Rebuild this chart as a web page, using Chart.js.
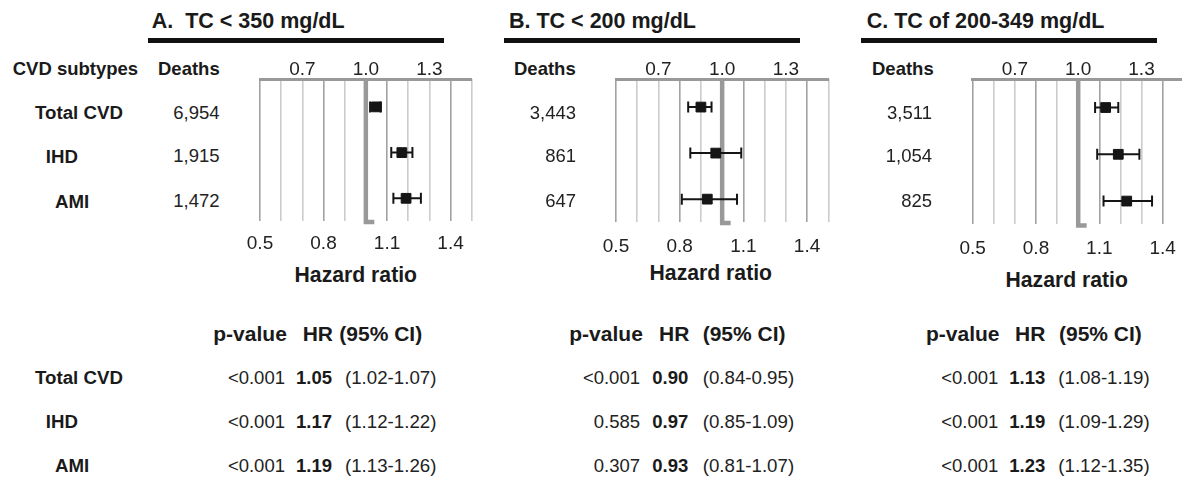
<!DOCTYPE html>
<html><head><meta charset="utf-8">
<script src="https://cdn.jsdelivr.net/npm/chart.js@4.4.1/dist/chart.umd.min.js"></script>
<style>
html,body{margin:0;padding:0;background:#fff;}
#wrap{position:relative;width:1182px;height:481px;overflow:hidden;font-family:'Liberation Sans',Arial,sans-serif;color:#1a1a1a;}
.t{position:absolute;white-space:pre;line-height:1;}
canvas{position:absolute;top:0;}
.bar{position:absolute;background:#111;}
</style></head><body><div id="wrap"></div>
<script>
// ---------- data ----------
const categories = ['Total CVD', 'IHD', 'AMI'];
const panelTitles = ['A.  TC < 350 mg/dL', 'B. TC < 200 mg/dL', 'C. TC of 200-349 mg/dL'];
const deathsA = ['6,954', '1,915', '1,472'];
const deathsB = ['3,443', '861', '647'];
const deathsC = ['3,511', '1,054', '825'];
const hrA = [1.05, 1.17, 1.19];
const loA = [1.02, 1.12, 1.13];
const hiA = [1.07, 1.22, 1.26];
const hrB = [0.90, 0.97, 0.93];
const loB = [0.84, 0.85, 0.81];
const hiB = [0.95, 1.09, 1.07];
const hrC = [1.13, 1.19, 1.23];
const loC = [1.08, 1.09, 1.12];
const hiC = [1.19, 1.29, 1.35];
const pA = ['<0.001', '<0.001', '<0.001'];
const pB = ['<0.001', '0.585', '0.307'];
const pC = ['<0.001', '<0.001', '<0.001'];
const gridTicks = [0.5, 0.6, 0.7, 0.8, 0.9, 1.0, 1.1, 1.2, 1.3, 1.4, 1.5];
const bottomTicks = [0.5, 0.8, 1.1, 1.4];
const topTicks = [0.7, 1.0, 1.3];
const refValue = 1.0;

// ---------- layout / style ----------
const FONT = "'Liberation Sans', Arial, sans-serif";
const wrap = document.getElementById('wrap');
const Y_MIN = 0.39, Y_MAX = 3.49;
const DARK = '#a2a2a2', LIGHT = '#cccccc', REF = '#999999', INK = '#151515';

const panels = [
  {hr: hrA, lo: loA, hi: hiA, deaths: deathsA, p: pA, left: 200, w: 300, pl: 60, pr: 28.3, bottomH: 79.3, tickPad: 12,
   titleX: 151.7, barX: 148, barW: 296, deathsHdr: 158, deathsR: 219.5, hzX: 355.8, hzY: 274,
   tbl: {pH: 213.3, hrH: 302.7, ciH: 339.3, pR: 285, hrL: 296, ciL: 345}},
  {hr: hrB, lo: loB, hi: hiB, deaths: deathsB, p: pB, left: 560, w: 300, pl: 56, pr: 31.7, bottomH: 78.3, tickPad: 13.4,
   titleX: 509, barX: 504, barW: 296, deathsHdr: 514, deathsR: 576, hzX: 710.8, hzY: 272.5,
   tbl: {pH: 569.3, hrH: 659, ciH: 702.7, pR: 640, hrL: 652.3, ciL: 702.7}},
  {hr: hrC, lo: loC, hi: hiC, deaths: deathsC, p: pC, left: 920, w: 280, pl: 52.7, pr: 16.3, bottomH: 76, tickPad: 12.9,
   titleX: 866.7, barX: 861, barW: 296, deathsHdr: 872, deathsR: 932, hzX: 1066.7, hzY: 279,
   tbl: {pH: 926, hrH: 1015, ciH: 1059, pR: 998.3, hrL: 1009.3, ciL: 1058.3}}
];

function txt(s, x, cy, size, bold, align, color) {
  const d = document.createElement('div');
  d.className = 't';
  d.textContent = s;
  d.style.fontSize = size + 'px';
  d.style.fontWeight = bold ? 'bold' : 'normal';
  d.style.color = color || (bold ? '#1a1a1a' : '#222');
  d.style.top = (cy - 0.49 * size) + 'px';
  if (align === 'right') { d.style.left = (x - 400) + 'px'; d.style.width = '400px'; d.style.textAlign = 'right'; }
  else if (align === 'center') { d.style.left = (x - 200) + 'px'; d.style.width = '400px'; d.style.textAlign = 'center'; }
  else d.style.left = x + 'px';
  wrap.appendChild(d);
}

const rowLeft = [35, 45.7, 55];
const rowY = [113, 157, 202];
const deathY = [113, 156.5, 201.5];
const tblHdrY = 333.5;
const tblY = [378.3, 421.7, 465.7];

// left column labels
txt('CVD subtypes', 12.7, 69, 18.5, true);
categories.forEach((c, i) => txt(c, rowLeft[i], rowY[i], 18.7, true));
categories.forEach((c, i) => txt(c, rowLeft[i], tblY[i], 18.7, true));

const isIn = (arr, v) => arr.some(t => Math.abs(t - v) < 1e-6);

panels.forEach((p, k) => {
  // header
  txt(panelTitles[k], p.titleX, 21.5, 21.5, true);
  const bar = document.createElement('div');
  bar.className = 'bar';
  bar.style.left = p.barX + 'px'; bar.style.top = '37.5px';
  bar.style.width = p.barW + 'px'; bar.style.height = '5px';
  wrap.appendChild(bar);
  txt('Deaths', p.deathsHdr, 69, 18.5, true);
  p.deaths.forEach((d, i) => txt(d, p.deathsR, deathY[i], 18.5, false, 'right'));
  txt('Hazard ratio', p.hzX, p.hzY, 21.2, true, 'center');
  // table
  txt('p-value', p.tbl.pH, tblHdrY, 21, true);
  txt('HR', p.tbl.hrH, tblHdrY, 21, true);
  txt('(95% CI)', p.tbl.ciH, tblHdrY, 21, true);
  p.hr.forEach((v, i) => {
    txt(p.p[i], p.tbl.pR, tblY[i], 18.5, false, 'right');
    txt(v.toFixed(2), p.tbl.hrL, tblY[i], 18.5, true);
    txt('(' + p.lo[i].toFixed(2) + '-' + p.hi[i].toFixed(2) + ')', p.tbl.ciL, tblY[i], 18.7, false);
  });

  // chart
  const cv = document.createElement('canvas');
  cv.width = p.w; cv.height = 300;
  cv.style.left = p.left + 'px'; cv.style.width = p.w + 'px'; cv.style.height = '300px';
  wrap.appendChild(cv);

  const ds = [];
  ds.push({type: 'scatter', data: p.hr.map((v, i) => ({x: v, y: i + 1})), pointStyle: 'rect',
    pointRadius: 6.9, backgroundColor: INK, borderColor: INK, pointBorderWidth: 1, showLine: false});
  p.hr.forEach((v, i) => ds.push({type: 'line',
    data: [{x: p.lo[i], y: i + 1}, {x: p.hi[i], y: i + 1}],
    borderColor: INK, borderWidth: 2, pointStyle: 'line', pointRotation: 90, pointRadius: 5.5,
    pointBorderWidth: 2, pointBorderColor: INK, pointBackgroundColor: INK, fill: false}));
  ds.push({type: 'line',
    data: [{x: refValue, y: Y_MIN}, {x: refValue, y: Y_MAX + 0.03}, {x: refValue + 0.04, y: Y_MAX + 0.03}],
    borderColor: REF, borderWidth: 4.5, pointRadius: 0, clip: false, borderJoinStyle: 'miter',
    borderCapStyle: 'butt', fill: false, tension: 0});

  new Chart(cv, {
    type: 'scatter',
    data: {datasets: ds},
    options: {
      responsive: false, animation: false, events: [],
      layout: {padding: {left: p.pl, right: p.pr, top: 0, bottom: 0}},
      plugins: {legend: {display: false}, tooltip: {enabled: false}},
      scales: {
        x: {type: 'linear', position: 'bottom', min: 0.5, max: 1.5,
          afterBuildTicks: s => { s.ticks = gridTicks.map(v => ({value: v})); },
          afterFit: s => { s.height = p.bottomH; },
          grid: {drawTicks: false, lineWidth: 1.6,
            color: c => (c.tick && isIn(bottomTicks, c.tick.value)) ? DARK : LIGHT},
          border: {display: false},
          ticks: {padding: p.tickPad, autoSkip: false, maxRotation: 0, color: '#222',
            font: {size: 19, family: FONT},
            callback: v => isIn(bottomTicks, v) ? v.toFixed(1) : ''}},
        x2: {type: 'linear', position: 'top', min: 0.5, max: 1.5,
          afterBuildTicks: s => { s.ticks = topTicks.map(v => ({value: v})); },
          afterFit: s => { s.height = 79; },
          grid: {display: false, drawTicks: false},
          border: {display: true, color: REF, width: 3},
          ticks: {padding: -2, autoSkip: false, maxRotation: 0, color: '#222',
            font: {size: 19, family: FONT},
            callback: v => v.toFixed(1)}},
        y: {type: 'linear', reverse: true, min: Y_MIN, max: Y_MAX, display: false}
      }
    }
  });
});
</script></body></html>
